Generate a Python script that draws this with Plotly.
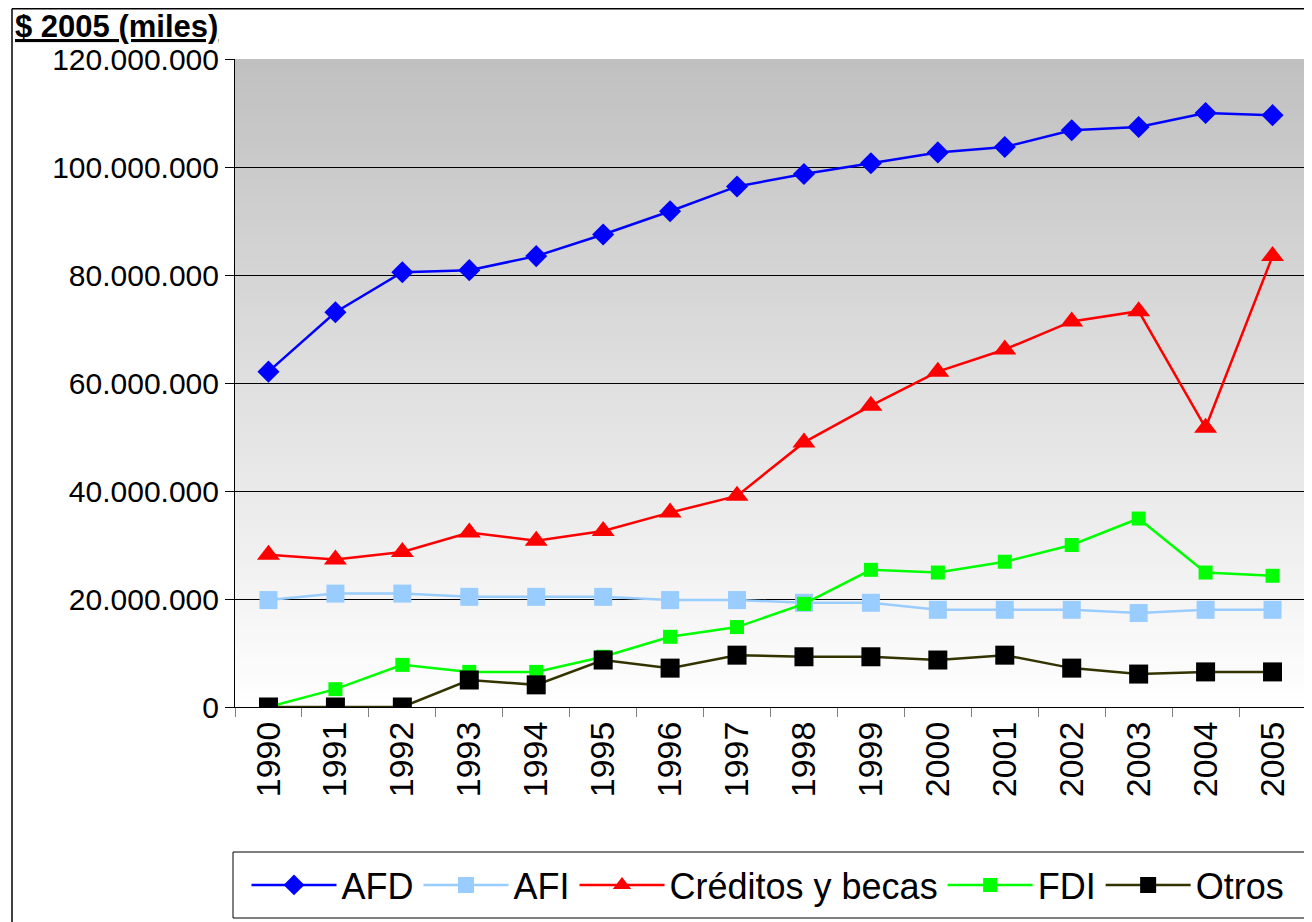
import plotly.graph_objects as go

years = [str(y) for y in range(1990, 2006)]
afd = [62.1, 73.1, 80.5, 80.9, 83.5, 87.5, 91.8, 96.4, 98.7, 100.7, 102.7, 103.7, 106.8, 107.4, 110.0, 109.6]
afi = [19.8, 21.0, 21.0, 20.4, 20.4, 20.4, 19.8, 19.8, 19.3, 19.3, 18.0, 18.0, 18.0, 17.4, 18.0, 18.0]
creditos = [28.2, 27.3, 28.7, 32.3, 30.8, 32.6, 36.0, 39.1, 49.0, 55.8, 62.1, 66.2, 71.4, 73.3, 51.7, 83.5]
fdi = [0.0, 3.3, 7.8, 6.5, 6.5, 9.3, 13.0, 14.8, 19.1, 25.4, 24.9, 26.9, 30.0, 34.9, 24.9, 24.3]
otros = [0.0, 0.0, 0.0, 5.0, 4.1, 8.7, 7.2, 9.6, 9.3, 9.3, 8.7, 9.6, 7.2, 6.1, 6.5, 6.5]

M = 1_000_000
def scale(v):
    return [x * M for x in v]

FONT = "Liberation Sans, Arial, sans-serif"

fig = go.Figure()
fig.add_trace(go.Scatter(x=years, y=scale(afd), name="AFD", mode="lines+markers",
                         line=dict(color="#0000ff", width=2.5),
                         marker=dict(symbol="diamond", size=17, color="#0000ff")))
fig.add_trace(go.Scatter(x=years, y=scale(afi), name="AFI", mode="lines+markers",
                         line=dict(color="#99ccff", width=2.5),
                         marker=dict(symbol="square", size=18, color="#99ccff")))
fig.add_trace(go.Scatter(x=years, y=scale(creditos), name="Créditos y becas", mode="lines+markers",
                         line=dict(color="#ff0000", width=2.5),
                         marker=dict(symbol="triangle-up", size=20, color="#ff0000")))
fig.add_trace(go.Scatter(x=years, y=scale(fdi), name="FDI", mode="lines+markers",
                         line=dict(color="#00ff00", width=2.5),
                         marker=dict(symbol="square", size=14, color="#00ff00")))
fig.add_trace(go.Scatter(x=years, y=scale(otros), name="Otros", mode="lines+markers",
                         line=dict(color="#333300", width=2.5),
                         marker=dict(symbol="square", size=19, color="#000000")))

# the page body has an 8px margin, so figure coords = screen coords - 8
OFF = 8
W, H = 1312, 922
L, T = 235 - OFF, 59 - OFF
R = W - (1306 - OFF)
B = H - (707 - OFF)
pw, ph = W - L - R, H - T - B
def px(x):
    return (x - OFF - L) / pw
def py(y):
    return (H - B - (y - OFF)) / ph

# gradient background bands (dark gray at top to white at bottom), overlapping to avoid seams
shapes = []
n = 80
for i in range(n):
    t = (i + 0.5) / n  # 0 bottom, 1 top
    c = int(round(255 - (255 - 192) * t))
    shapes.append(dict(type="rect", xref="paper", yref="paper",
                       x0=0, x1=1, y0=i / n, y1=min(1.0, (i + 1.6) / n),
                       fillcolor=f"rgb({c},{c},{c})", line=dict(width=0), layer="below"))

# outer chart frame (left and top edges visible)
shapes.append(dict(type="line", xref="paper", yref="paper", x0=px(12), x1=px(12),
                   y0=py(8.8), y1=py(935), line=dict(color="black", width=1.5)))
shapes.append(dict(type="line", xref="paper", yref="paper", x0=px(12), x1=px(1330),
                   y0=py(8.8), y1=py(8.8), line=dict(color="black", width=1.5)))
# legend box
shapes.append(dict(type="rect", xref="paper", yref="paper", x0=px(233), x1=px(1310),
                   y0=py(852), y1=py(918), line=dict(color="black", width=1), fillcolor="white"))

fig.update_layout(
    width=W, height=H,
    margin=dict(l=L, r=R, t=T, b=B),
    paper_bgcolor="white", plot_bgcolor="white",
    separators=",.",
    font=dict(family=FONT, color="black"),
    shapes=shapes,
    showlegend=True,
    legend=dict(orientation="h", x=px(768), xanchor="center", y=py(885), yanchor="middle",
                font=dict(size=36, family=FONT), bgcolor="rgba(0,0,0,0)",
                itemwidth=85, borderwidth=0),
    annotations=[dict(text="<b><u>$ 2005 (miles)</u></b>", xref="paper", yref="paper",
                      x=px(13), y=py(26), xanchor="left", yanchor="middle",
                      showarrow=False, font=dict(size=31, family=FONT))],
)
fig.update_xaxes(type="category", tickson="boundaries", ticks="outside", ticklen=9,
                 tickcolor="#808080", tickangle=-90, tickfont=dict(size=34, family=FONT),
                 showline=True, linecolor="black", linewidth=1, showgrid=False,
                 range=[-0.5, 15.5])
fig.update_yaxes(range=[0, 120 * M], dtick=20 * M, tickformat=",d", ticks="outside",
                 ticklen=9, tickcolor="black", tickfont=dict(size=30, family=FONT),
                 showline=True, linecolor="black", linewidth=1,
                 showgrid=True, gridcolor="black", gridwidth=1, zeroline=False)

fig.write_html("out.html")
